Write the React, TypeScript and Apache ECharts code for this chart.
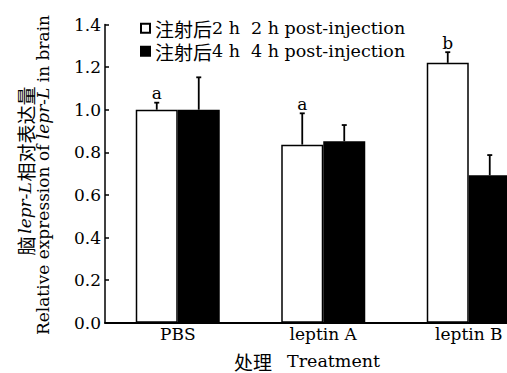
import React, { useEffect, useRef } from "react";
import * as echarts from "echarts";

const categories = ["PBS", "leptin A", "leptin B"];
const seriesNames = ["注射后2 h  2 h post-injection", "注射后4 h  4 h post-injection"];
const h2Values = [1.0, 0.836, 1.22];
const h2Errors = [0.033, 0.147, 0.05];
const h2Letters = ["a", "a", "b"];
const h4Values = [1.0, 0.852, 0.692];
const h4Errors = [0.152, 0.076, 0.095];
const yTicks = { min: 0, max: 1.4, interval: 0.2 };

const FONT = "'DejaVu Serif', 'Noto Sans CJK SC', serif";
const CJK = "'Noto Sans CJK SC', 'DejaVu Serif', serif";
const BAR_W = 42;
const CHART_W = 542;

export default function App() {
  const ref = useRef<HTMLDivElement>(null);
  useEffect(() => {
    if (!ref.current) return;
    const chart = echarts.init(ref.current, null, { renderer: "svg" });

    const errData: any[] = [];
    categories.forEach((_, i) => {
      errData.push([i, h2Values[i], h2Errors[i], -1, h2Letters[i]]);
      errData.push([i, h4Values[i], h4Errors[i], 1, ""]);
    });

    const rotText = (text: string, x: number, y: number, font: string, size: number, italic = false) => ({
      type: "text",
      x,
      y,
      rotation: Math.PI / 2,
      style: {
        text,
        align: "center",
        verticalAlign: "middle",
        fontFamily: font,
        fontSize: size,
        fontStyle: italic ? "italic" : "normal",
        fill: "#000",
      },
    });

    const option: any = {
      animation: false,
      textStyle: { fontFamily: FONT, color: "#000" },
      grid: { left: 105, top: 24.5, bottom: 50.3, right: 0.5, containLabel: false },
      legend: {
        orient: "vertical",
        left: 135,
        top: 13,
        icon: "rect",
        itemWidth: 9,
        itemHeight: 9,
        itemGap: 2.5,
        data: seriesNames,
        formatter: (name: string) => `{cn|${name.slice(0, 3)}}{en|${name.slice(3)}}`,
        textStyle: {
          fontFamily: FONT,
          fontSize: 17,
          color: "#000",
          lineHeight: 20.5,
          rich: {
            cn: { fontSize: 19, fontFamily: CJK, color: "#000", lineHeight: 20.5 },
            en: { fontSize: 17.5, fontFamily: FONT, color: "#000", lineHeight: 20.5 },
          },
        },
      },
      xAxis: {
        type: "category",
        data: categories,
        axisTick: { show: false },
        axisLine: { lineStyle: { color: "#000", width: 2 } },
        axisLabel: { color: "#000", fontSize: 17, fontFamily: FONT, margin: 3 },
      },
      yAxis: {
        type: "value",
        min: yTicks.min,
        max: yTicks.max,
        interval: yTicks.interval,
        splitLine: { show: false },
        axisLine: { show: true, lineStyle: { color: "#000", width: 1.5 } },
        axisTick: { show: true, inside: true, length: 4, lineStyle: { color: "#000", width: 1.5 } },
        axisLabel: {
          color: "#000",
          fontSize: 17,
          fontFamily: FONT,
          margin: 4,
          formatter: (v: number) => v.toFixed(1),
        },
      },
      graphic: [
        rotText("脑", 25, 246, CJK, 19),
        rotText("lepr-L", 25, 208, FONT, 17, true),
        rotText("相对表达量", 25, 134, CJK, 19),
        {
          type: "text",
          x: 43,
          y: 175,
          rotation: Math.PI / 2,
          style: {
            text: "{en|Relative expression of }{ei|lepr-L}{en| in brain}",
            align: "center",
            verticalAlign: "middle",
            fill: "#000",
            rich: {
              en: { fontSize: 17, fontFamily: FONT, fill: "#000" },
              ei: { fontSize: 17, fontFamily: FONT, fill: "#000", fontStyle: "italic" },
            },
          },
        },
        {
          type: "text",
          x: 272,
          y: 361,
          style: {
            text: "处理",
            align: "right",
            verticalAlign: "middle",
            fontFamily: CJK,
            fontSize: 19,
            fill: "#000",
          },
        },
        {
          type: "text",
          x: 287,
          y: 361,
          style: {
            text: "Treatment",
            align: "left",
            verticalAlign: "middle",
            fontFamily: FONT,
            fontSize: 17.5,
            fill: "#000",
          },
        },
      ],
      series: [
        {
          name: seriesNames[0],
          type: "bar",
          data: h2Values,
          barWidth: BAR_W,
          barGap: "0%",
          itemStyle: { color: "#fff", borderColor: "#000", borderWidth: 1.5 },
        },
        {
          name: seriesNames[1],
          type: "bar",
          data: h4Values,
          barWidth: BAR_W,
          barGap: "0%",
          itemStyle: { color: "#000", borderColor: "#000", borderWidth: 1.5 },
        },
        {
          type: "custom",
          z: 10,
          data: errData,
          renderItem: (params: any, api: any) => {
            const cat = api.value(0);
            const val = api.value(1);
            const err = api.value(2);
            const side = api.value(3);
            const letter = errData[params.dataIndex][4];
            const base = api.coord([cat, val]);
            const top = api.coord([cat, val + err]);
            const x = base[0] + side * (BAR_W / 2);
            const children: any[] = [
              {
                type: "line",
                shape: { x1: x, y1: base[1], x2: x, y2: top[1] },
                style: { stroke: "#000", lineWidth: 1.8 },
              },
              {
                type: "line",
                shape: { x1: x - 2.5, y1: top[1], x2: x + 2.5, y2: top[1] },
                style: { stroke: "#000", lineWidth: 1.8 },
              },
            ];
            if (letter) {
              children.push({
                type: "text",
                x: x,
                y: top[1] - 1,
                style: {
                  text: letter,
                  align: "center",
                  verticalAlign: "bottom",
                  fontSize: 17,
                  fontFamily: FONT,
                  fill: "#000",
                },
              });
            }
            return { type: "group", children };
          },
        },
      ],
    };
    chart.setOption(option);
    return () => chart.dispose();
  }, []);
  return (
    <div
      style={{
        position: "absolute",
        left: 0,
        top: 0,
        width: 507,
        height: 373,
        overflow: "hidden",
        background: "#fff",
      }}
    >
      <div ref={ref} style={{ width: CHART_W, height: 373 }} />
    </div>
  );
}
